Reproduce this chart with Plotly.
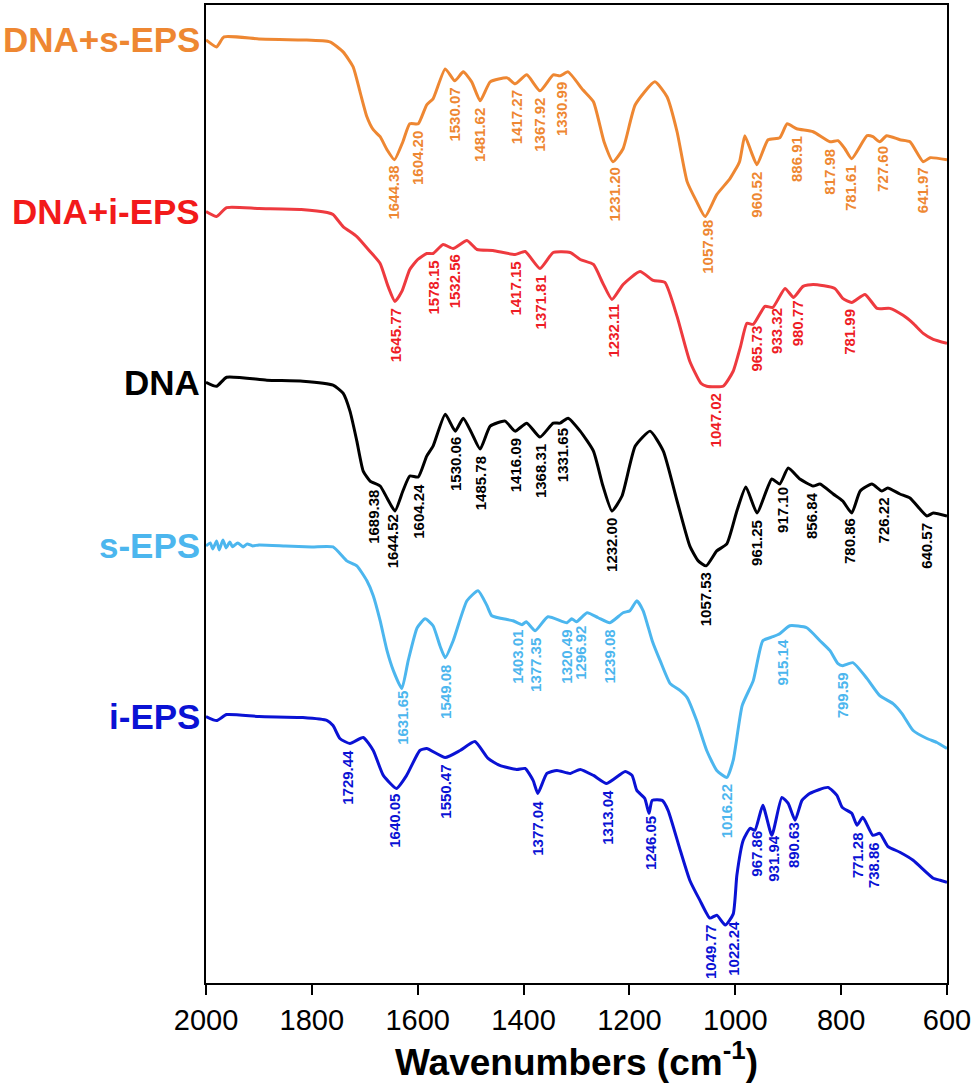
import numpy as np
import plotly.graph_objects as go

# FTIR spectra, stacked with offsets (arbitrary transmittance units)
dna_s_eps_wn = [2000, 1980, 1966, 1900, 1817, 1766, 1741, 1722, 1709, 1696, 1684, 1671, 1658, 1644, 1628, 1615,
                1599, 1583, 1571, 1548, 1530, 1514, 1498, 1482, 1463, 1431, 1416, 1394, 1369, 1344, 1331, 1316,
                1288, 1268, 1248, 1231, 1212, 1189, 1152, 1129, 1110, 1091, 1073, 1057, 1035, 1010, 992, 982,
                970, 959, 938, 916, 902, 884, 853, 821, 806, 793, 780, 751, 740, 727, 714, 689, 670, 645, 632, 600]
dna_s_eps_t = [94.5, 93.8, 94.8, 94.6, 94.5, 94.3, 93.3, 91.8, 89.3, 86.8, 85.5, 84.8, 83.5, 82.5, 84.3, 86.1,
               86.1, 88.0, 88.6, 91.6, 90.4, 91.3, 90.3, 88.4, 90.3, 90.7, 90.1, 91.0, 89.4, 91.0, 90.9, 91.3,
               89.5, 88.3, 84.3, 82.3, 83.6, 88.0, 90.3, 88.8, 85.3, 80.3, 78.3, 76.8, 79.0, 80.6, 82.3, 84.9,
               83.3, 82.0, 84.5, 84.7, 86.1, 85.6, 85.3, 84.3, 84.4, 83.6, 82.6, 84.9, 84.8, 84.3, 84.9, 84.5,
               84.3, 82.3, 82.7, 82.5]

dna_i_eps_wn = [2000, 1980, 1961, 1900, 1820, 1771, 1760, 1741, 1715, 1690, 1671, 1656, 1643, 1630, 1615, 1600,
                1583, 1571, 1552, 1533, 1507, 1488, 1458, 1416, 1397, 1369, 1344, 1312, 1293, 1268, 1250, 1233,
                1212, 1180, 1155, 1133, 1110, 1086, 1065, 1054, 1023, 1004, 990, 978, 966, 944, 929, 906,
                890, 872, 853, 812, 797, 780, 755, 732, 708, 683, 664, 645, 626, 600]
dna_i_eps_t = [77.3, 76.8, 77.7, 77.6, 77.5, 77.2, 77.0, 75.8, 74.8, 73.3, 72.1, 69.8, 68.3, 69.3, 71.5, 72.5,
               73.1, 73.1, 74.0, 73.6, 74.4, 73.5, 73.4, 73.0, 73.3, 71.6, 73.2, 73.2, 72.5, 72.0, 70.1, 68.5,
               70.0, 71.3, 70.4, 70.2, 66.8, 62.3, 60.1, 59.8, 59.8, 61.3, 63.8, 66.1, 66.0, 67.8, 67.7, 69.6,
               68.7, 69.8, 70.0, 69.6, 68.6, 68.2, 69.0, 67.6, 67.6, 66.9, 66.1, 65.1, 64.5, 64.1]

dna_wn = [2000, 1980, 1961, 1885, 1817, 1760, 1741, 1728, 1715, 1703, 1690, 1671, 1658, 1643, 1628, 1615,
          1599, 1583, 1571, 1548, 1529, 1514, 1498, 1482, 1463, 1435, 1416, 1394, 1369, 1344, 1331, 1316,
          1293, 1268, 1250, 1233, 1214, 1189, 1161, 1136, 1110, 1086, 1070, 1055, 1035, 1016, 997, 980,
          959, 931, 916, 900, 878, 853, 840, 815, 797, 780, 764, 742, 723, 712, 689, 670, 638, 626, 600]
dna_t = [60.2, 59.8, 60.7, 60.4, 60.3, 59.9, 59.1, 57.3, 54.3, 51.3, 50.3, 49.8, 48.6, 47.3, 49.3, 50.8,
         50.7, 52.8, 53.8, 57.0, 55.3, 56.6, 55.1, 53.5, 55.8, 56.3, 55.3, 56.1, 54.7, 56.1, 56.1, 56.6,
         55.3, 53.3, 49.8, 47.3, 48.8, 53.8, 55.3, 53.3, 48.3, 43.8, 42.3, 41.8, 43.3, 44.0, 47.3, 49.7,
         47.1, 50.5, 50.0, 51.6, 50.5, 49.8, 50.0, 49.0, 48.3, 47.1, 49.3, 50.0, 49.3, 49.6, 49.0, 48.6,
         46.8, 47.1, 46.8]

s_eps_wn = [2000, 1992, 1987, 1980, 1975, 1968, 1962, 1955, 1950, 1940, 1930, 1922, 1912, 1900, 1850, 1800,
            1760, 1734, 1715, 1696, 1684, 1671, 1658, 1646, 1630, 1618, 1601, 1586, 1571, 1558, 1548, 1533,
            1507, 1486, 1469, 1460, 1420, 1403, 1395, 1378, 1354, 1318, 1309, 1300, 1280, 1259, 1237, 1212,
            1199, 1186, 1174, 1157, 1142, 1123, 1104, 1091, 1073, 1054, 1035, 1016, 1004, 987, 966, 948,
            929, 916, 897, 865, 840, 821, 806, 797, 778, 751, 727, 702, 685, 664, 638, 619, 600]
s_eps_t = [43.8, 44.1, 43.5, 44.3, 43.4, 44.4, 43.6, 44.2, 43.7, 44.1, 43.7, 44.0, 43.8, 43.9, 43.8, 43.7,
           43.7, 42.3, 41.8, 40.3, 38.8, 36.3, 33.3, 31.3, 29.5, 32.3, 35.6, 36.5, 35.8, 33.8, 32.6, 34.3,
           38.3, 39.3, 37.8, 36.8, 36.3, 35.9, 36.2, 35.3, 36.7, 36.1, 36.5, 36.2, 37.1, 36.6, 36.1, 37.1,
           37.3, 38.3, 37.3, 34.3, 32.3, 30.0, 29.3, 28.6, 26.3, 23.3, 21.3, 20.6, 22.3, 27.8, 30.3, 34.3,
           34.7, 35.0, 35.8, 35.6, 34.3, 33.3, 32.0, 31.8, 32.1, 30.5, 28.8, 28.0, 27.0, 25.3, 24.5, 24.1, 23.5]

i_eps_wn = [2000, 1980, 1961, 1900, 1817, 1771, 1760, 1747, 1728, 1703, 1684, 1665, 1640, 1621, 1596, 1583,
            1548, 1520, 1492, 1467, 1445, 1413, 1397, 1382, 1373, 1356, 1337, 1312, 1293, 1268, 1243, 1208,
            1195, 1186, 1171, 1163, 1157, 1138, 1127, 1104, 1086, 1067, 1048, 1035, 1019, 1004, 997, 985,
            972, 963, 948, 931, 912, 900, 887, 874, 859, 825, 808, 798, 780, 770, 759, 740, 727, 712, 689,
            664, 626, 613, 600]
i_eps_t = [26.7, 26.3, 26.9, 26.7, 26.6, 26.3, 25.8, 24.5, 24.0, 24.6, 23.3, 20.8, 19.5, 20.8, 23.3, 23.5,
           22.6, 23.3, 24.2, 22.5, 21.8, 21.4, 21.5, 20.3, 19.0, 21.0, 21.3, 21.0, 21.4, 20.8, 20.0, 21.2,
           20.8, 19.3, 18.5, 17.0, 18.3, 18.3, 17.3, 13.3, 10.3, 8.3, 6.5, 6.8, 5.8, 6.9, 10.8, 14.3,
           15.5, 15.3, 17.8, 14.8, 18.6, 18.0, 16.3, 18.3, 19.0, 19.6, 18.8, 17.6, 17.0, 15.8, 16.6, 14.8,
           15.0, 13.7, 13.1, 12.3, 10.5, 10.3, 10.1]

# peak labels: text and where they sit on the wavenumber axis
dna_s_eps_peaks = ["1644.38", "1604.20", "1530.07", "1481.62", "1417.27", "1367.92", "1330.99", "1231.20",
                   "1057.98", "960.52", "886.91", "817.98", "781.61", "727.60", "641.97"]
dna_s_eps_pos = [1646, 1599, 1530, 1482, 1414, 1369, 1327, 1229, 1053, 959, 883, 821, 781, 721, 647]

dna_i_eps_peaks = ["1645.77", "1578.15", "1532.56", "1417.15", "1371.81", "1232.11", "1047.02",
                   "965.73", "933.32", "980.77", "781.99"]
dna_i_eps_pos = [1643, 1571, 1530, 1416, 1369, 1231, 1038, 959, 921, 883, 783]

dna_peaks = ["1689.38", "1644.52", "1604.24", "1530.06", "1485.78", "1416.09", "1368.31", "1331.65",
             "1232.00", "1057.53", "961.25", "917.10", "856.84", "780.86", "726.22", "640.57"]
dna_pos = [1684, 1647, 1599, 1530, 1482, 1416, 1369, 1326, 1233, 1057, 959, 912, 855, 783, 721, 638]

s_eps_peaks = ["1631.65", "1549.08", "1403.01", "1377.35", "1320.49", "1296.92", "1239.08", "1016.22",
               "915.14", "799.59"]
s_eps_pos = [1628, 1548, 1412, 1378, 1318, 1293, 1237, 1016, 910, 797]

i_eps_peaks = ["1729.44", "1640.05", "1550.47", "1377.04", "1313.04", "1246.05", "1049.77", "1022.24",
               "967.86", "931.94", "890.63", "771.28", "738.86"]
i_eps_pos = [1732, 1643, 1548, 1373, 1242, 1161, 1048, 1004, 959, 927, 891, 770, 740]

x_ticks = [2000, 1800, 1600, 1400, 1200, 1000, 800, 600]

FONT = "Liberation Sans, Arial, sans-serif"

series = [
    ("DNA+s-EPS", dna_s_eps_wn, dna_s_eps_t, dna_s_eps_peaks, dna_s_eps_pos, "#EE8732", "#EE8732", "#EE8732"),
    ("DNA+i-EPS", dna_i_eps_wn, dna_i_eps_t, dna_i_eps_peaks, dna_i_eps_pos, "#EE3A3F", "#EE1C25", "#F21A1A"),
    ("DNA", dna_wn, dna_t, dna_peaks, dna_pos, "#000000", "#000000", "#000000"),
    ("s-EPS", s_eps_wn, s_eps_t, s_eps_peaks, s_eps_pos, "#4CB6EE", "#4CB6EE", "#4CB6EE"),
    ("i-EPS", i_eps_wn, i_eps_t, i_eps_peaks, i_eps_pos, "#0A12D4", "#0A12D4", "#0A12D4"),
]

fig = go.Figure()
annotations = []
for name, wn, t, peaks, pos, line_col, peak_col, name_col in series:
    fig.add_trace(go.Scatter(x=wn, y=t, mode="lines", name=name,
                             line=dict(color=line_col, width=3, shape="spline", smoothing=0.5)))
    wn_inc = np.array(wn[::-1], dtype=float)
    t_inc = np.array(t[::-1], dtype=float)
    for label, p in zip(peaks, pos):
        y_top = float(np.interp(p, wn_inc, t_inc)) - 0.5
        annotations.append(dict(x=p, y=y_top, xref="x", yref="y", text="<b>%s</b>" % label,
                                showarrow=False, textangle=-90, xanchor="center", yanchor="top",
                                font=dict(family=FONT, size=15, color=peak_col)))
    annotations.append(dict(x=0, y=t[0], xref="paper", yref="y", text="<b>%s</b>" % name,
                            showarrow=False, xanchor="right", yanchor="middle", xshift=-4,
                            font=dict(family=FONT, size=35, color=name_col)))

fig.update_layout(
    width=975, height=1087,
    margin=dict(l=206, r=28, t=3, b=104),
    paper_bgcolor="white", plot_bgcolor="white",
    showlegend=False,
    annotations=annotations,
)
fig.update_xaxes(range=[2000, 600], tickvals=x_ticks, ticks="outside", ticklen=10, tickwidth=2,
                 tickcolor="black", showline=True, linewidth=2, linecolor="black", mirror=True,
                 showgrid=False, zeroline=False,
                 tickfont=dict(family=FONT, size=29, color="black"),
                 title=dict(text="<b>Wavenumbers (cm<sup>-1</sup>)</b>", standoff=14,
                            font=dict(family=FONT, size=37, color="black")))
fig.update_yaxes(range=[0, 98], showticklabels=False, ticks="", showline=True, linewidth=2,
                 linecolor="black", mirror=True, showgrid=False, zeroline=False)

fig.write_html("out.html", config={"displayModeBar": False},
               post_script="document.body.style.margin='0px';")
